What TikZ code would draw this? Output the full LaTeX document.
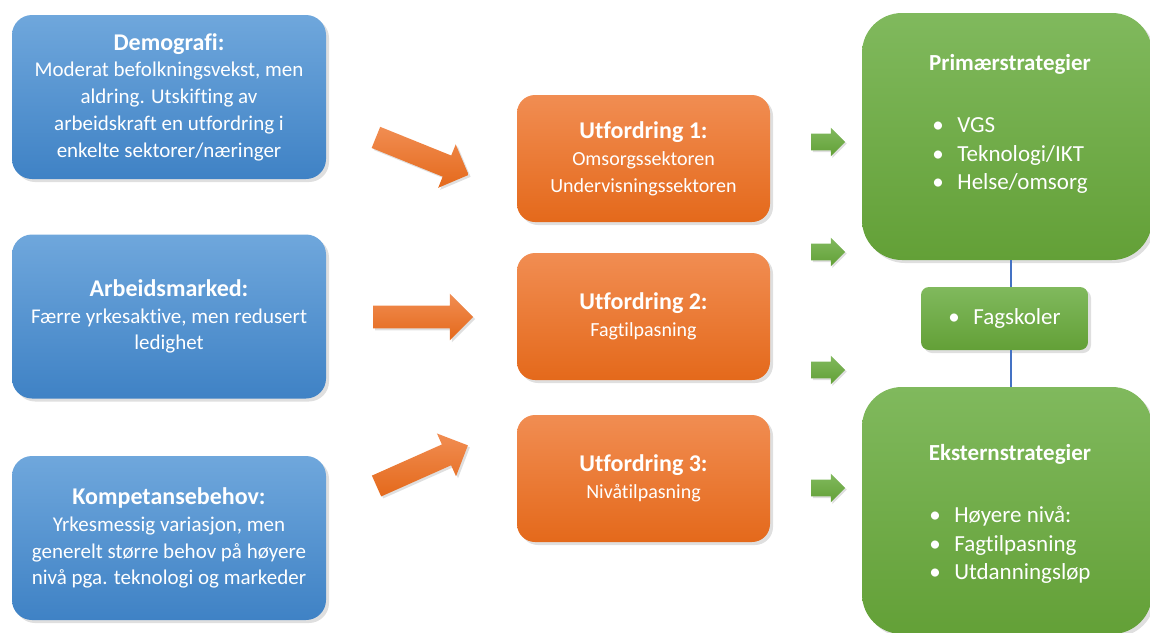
\documentclass[tikz,border=0pt]{standalone}
\usepackage{fontspec}
\setmainfont[Ligatures=NoCommon]{Carlito}
\usetikzlibrary{shapes.arrows,positioning,shadows,calc}
\definecolor{bluetop}{HTML}{6FA7DC}
\definecolor{bluebot}{HTML}{3F82C5}
\definecolor{orangetop}{HTML}{F18D52}
\definecolor{orangebot}{HTML}{E4691B}
\definecolor{greentop}{HTML}{80B95D}
\definecolor{greenbot}{HTML}{63A037}
\definecolor{linkblue}{HTML}{4472C4}
\newcommand{\boxhead}[1]{{\bfseries\fontsize{12}{13.3}\selectfont #1}}
\newcommand{\gbullet}{\makebox[12.5pt][l]{\textbullet}}

\begin{document}
\begin{tikzpicture}[x=0.5pt, y=-0.5pt,
  box/.style={rectangle, text=white, align=center,
    drop shadow={shadow xshift=1.5pt, shadow yshift=-1.5pt, opacity=0.25}},
  bluebox/.style={box, rounded corners=10pt, top color=bluetop, bottom color=bluebot,
    minimum width=157pt, minimum height=82pt,
    font=\fontsize{10.5}{13.4}\selectfont},
  orangebox/.style={box, rounded corners=9pt, top color=orangetop, bottom color=orangebot,
    minimum width=126.5pt, minimum height=63.5pt,
    font=\fontsize{10}{13.4}\selectfont},
  greenbox/.style={box, rounded corners=20pt, top color=greentop, bottom color=greenbot,
    minimum width=145pt, minimum height=123.5pt},
  fagbox/.style={box, rounded corners=4pt, top color=greentop, bottom color=greenbot,
    minimum width=83.5pt, minimum height=31.5pt,
    font=\fontsize{11.5}{14.15}\selectfont},
  gtxt/.style={text=white, align=center, inner sep=0pt, anchor=north,
    font=\fontsize{11.5}{14.15}\selectfont},
  oarrow/.style={single arrow, single arrow head extend=6pt, inner xsep=0pt,
    inner ysep=5.5pt, minimum height=50pt, minimum width=0pt,
    top color=orangetop, bottom color=orangebot,
    drop shadow={shadow xshift=1pt, shadow yshift=-1pt, opacity=0.25}},
  garrow/.style={single arrow, single arrow head extend=3pt, inner xsep=0pt,
    inner ysep=4pt, minimum height=17pt, minimum width=0pt,
    top color=greentop, bottom color=greenbot,
    drop shadow={shadow xshift=0.8pt, shadow yshift=-0.8pt, opacity=0.25}},
  link/.style={draw=linkblue, line width=0.6pt}
]
\useasboundingbox (0,0) rectangle (1150,632);

%─── LEFT COLUMN ─────────────────────────────────────────────────────────────
\node[bluebox] (DEM) at (169,97) {%
  \boxhead{Demografi:}\\Moderat befolkningsvekst, men\\
  aldring. Utskifting av\\arbeidskraft en utfordring i\\
  enkelte sektorer/næringer};

\node[bluebox] (ARB) at (169,316.5) {%
  \boxhead{Arbeidsmarked:}\\Færre yrkesaktive, men redusert\\ledighet};

\node[bluebox] (KOM) at (169,538) {%
  \boxhead{Kompetansebehov:}\\Yrkesmessig variasjon, men\\
  generelt større behov på høyere\\nivå pga. teknologi og markeder};

%─── MIDDLE COLUMN ───────────────────────────────────────────────────────────
\node[orangebox] (U1) at (643.5,158.5) {%
  \boxhead{Utfordring 1:}\\Omsorgssektoren\\Undervisningssektoren};

\node[orangebox] (U2) at (643.5,316.5) {%
  \boxhead{Utfordring 2:}\\Fagtilpasning};

\node[orangebox] (U3) at (643.5,478.5) {%
  \boxhead{Utfordring 3:}\\Nivåtilpasning};

%─── RIGHT COLUMN ────────────────────────────────────────────────────────────
\node[greenbox] (PS) at (1007,136.5) {};
\node[gtxt] (PT) at (1010,54) {%
  \textbf{Primærstrategier}\\[17pt]
  \begin{tabular}[t]{@{}l@{}}\gbullet VGS\\\gbullet Teknologi/IKT\\
  \gbullet Helse/omsorg\end{tabular}};

\node[fagbox] (FS) at (1004.5,318.5) {\gbullet Fagskoler};

\node[greenbox] (ES) at (1007,510.5) {};
\node[gtxt] (ET) at (1010,444) {%
  \textbf{Eksternstrategier}\\[17pt]
  \begin{tabular}[t]{@{}l@{}}\gbullet Høyere nivå:\\\gbullet Fagtilpasning\\
  \gbullet Utdanningsløp\end{tabular}};

%─── BLOCK ARROWS ────────────────────────────────────────────────────────────
\node[oarrow, rotate=-22] (OA1) at (417,154) {};
\node[oarrow]             (OA2) at (417.5,317) {};
\node[oarrow, rotate=24]  (OA3) at (417,468) {};

\node[garrow] (GA1) at (824,142) {};
\node[garrow] (GA2) at (824,252) {};
\node[garrow] (GA3) at (824,370) {};
\node[garrow] (GA4) at (824,488) {};

%─── LINKS ───────────────────────────────────────────────────────────────────
\draw[link] ([xshift=2pt]PS.south) -- ([xshift=2pt]PS.south |- FS.north);
\draw[link] ([xshift=2pt]PS.south |- FS.south) -- ([xshift=2pt]PS.south |- ES.north);

\end{tikzpicture}
\end{document}
